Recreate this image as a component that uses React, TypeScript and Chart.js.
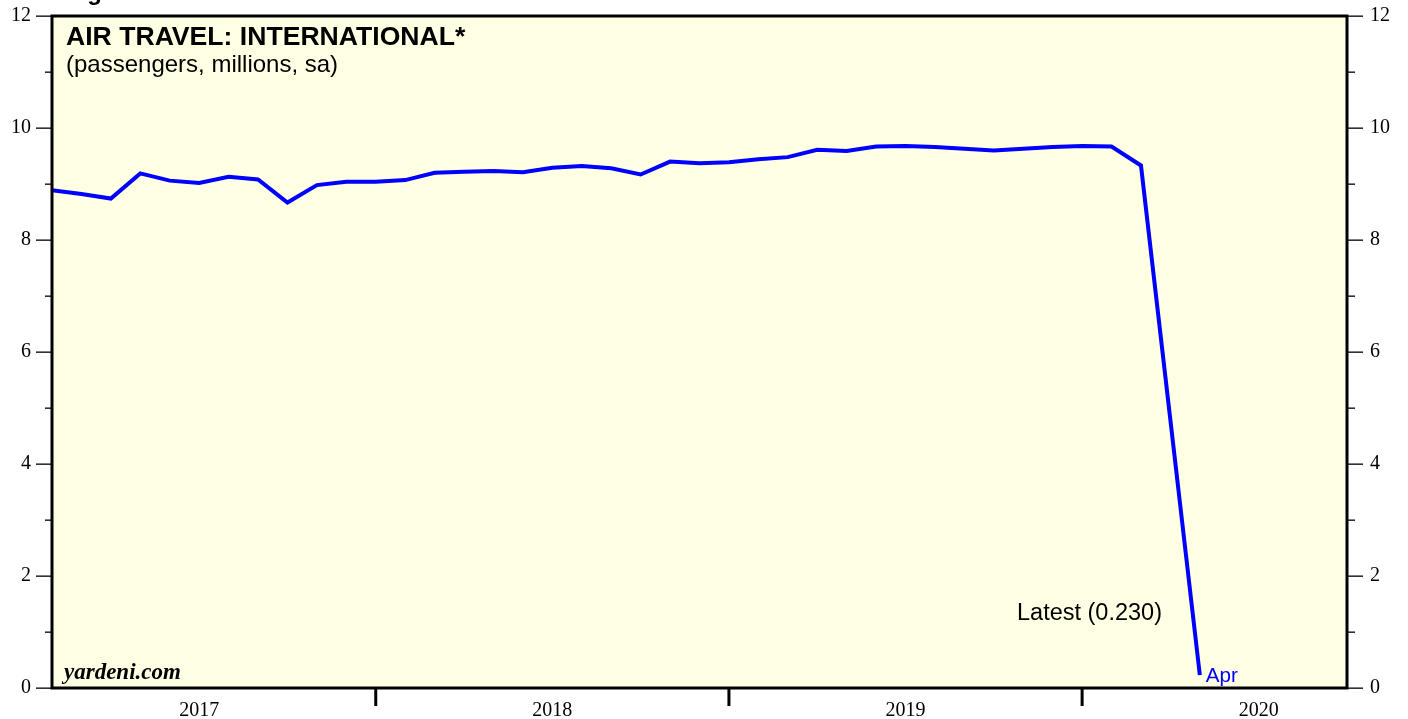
import React, { useEffect, useRef } from "react";
import { Chart, registerables } from "chart.js";

Chart.register(...registerables);

// Monthly data, Jan 2017 .. Apr 2020 (plotted at month end)
const monthLabels = [
  "Jan 2017", "Feb 2017", "Mar 2017", "Apr 2017", "May 2017", "Jun 2017",
  "Jul 2017", "Aug 2017", "Sep 2017", "Oct 2017", "Nov 2017", "Dec 2017",
  "Jan 2018", "Feb 2018", "Mar 2018", "Apr 2018", "May 2018", "Jun 2018",
  "Jul 2018", "Aug 2018", "Sep 2018", "Oct 2018", "Nov 2018", "Dec 2018",
  "Jan 2019", "Feb 2019", "Mar 2019", "Apr 2019", "May 2019", "Jun 2019",
  "Jul 2019", "Aug 2019", "Sep 2019", "Oct 2019", "Nov 2019", "Dec 2019",
  "Jan 2020", "Feb 2020", "Mar 2020", "Apr 2020",
];

const passengers = [
  8.89, 8.82, 8.74, 9.19, 9.06, 9.02, 9.13, 9.08, 8.67, 8.98, 9.04, 9.04,
  9.07, 9.2, 9.22, 9.23, 9.21, 9.29, 9.32, 9.28, 9.17, 9.4, 9.37, 9.39,
  9.44, 9.48, 9.61, 9.59, 9.67, 9.68, 9.66, 9.63, 9.6, 9.63, 9.66, 9.68,
  9.67, 9.33, 4.78, 0.23,
];

const yearLabels = ["2017", "2018", "2019", "2020"];
const yearLabelPositions = [6, 18, 30, 42]; // months from start of 2017 (mid-year)
const yearBoundaries = [12, 24, 36];
const xMin = 1;
const xMax = 45;
const yTickValues = [0, 1, 2, 3, 4, 5, 6, 7, 8, 9, 10, 11, 12];

const BG = "#FFFFE3";
const SANS = "'Liberation Sans', Arial, sans-serif";
const SERIF = "'Liberation Serif', 'Times New Roman', serif";

export default function App() {
  const canvasRef = useRef<HTMLCanvasElement | null>(null);

  useEffect(() => {
    document.body.style.margin = "0";
    const canvas = canvasRef.current;
    if (!canvas) return;

    const points = passengers.map((v, i) => ({ x: i + 1, y: v }));

    const decor = {
      id: "decor",
      beforeDraw(chart: any) {
        const { ctx, chartArea } = chart;
        ctx.save();
        ctx.fillStyle = "#ffffff";
        ctx.fillRect(0, 0, chart.width, chart.height);
        ctx.fillStyle = BG;
        ctx.fillRect(chartArea.left, chartArea.top, chartArea.right - chartArea.left, chartArea.bottom - chartArea.top);
        ctx.restore();
      },
      afterDraw(chart: any) {
        const { ctx, chartArea } = chart;
        const xs = chart.scales.x;
        const ys = chart.scales.y;
        ctx.save();
        // border
        ctx.strokeStyle = "#000";
        ctx.lineWidth = 3;
        ctx.strokeRect(chartArea.left, chartArea.top, chartArea.right - chartArea.left, chartArea.bottom - chartArea.top);
        // y ticks (left & right)
        ctx.fillStyle = "#000";
        yTickValues.forEach((v) => {
          const y = Math.round(ys.getPixelForValue(v));
          const major = v % 2 === 0;
          const ll = major ? 16 : 7;
          const rl = major ? 16 : 8;
          ctx.fillRect(chartArea.left - ll, y - 0.5, ll, 1.3);
          ctx.fillRect(chartArea.right, y - 0.5, rl, 1.3);
        });
        // year boundary ticks
        yearBoundaries.forEach((m) => {
          const x = xs.getPixelForValue(m);
          ctx.fillRect(x - 1.5, chartArea.bottom, 3, 18);
        });
        // texts
        ctx.textAlign = "left";
        ctx.textBaseline = "alphabetic";
        ctx.fillStyle = "#000";
        ctx.font = `bold 24px ${SANS}`;
        ctx.fillText("Figure 6.", 66, 0);
        ctx.font = `bold 26.6px ${SANS}`;
        ctx.fillText("AIR TRAVEL: INTERNATIONAL*", 66, 45);
        ctx.font = `24px ${SANS}`;
        ctx.fillText("(passengers, millions, sa)", 66, 72);
        ctx.font = `italic bold 23px ${SERIF}`;
        ctx.fillText("yardeni.com", 64, 679);
        ctx.font = `23.5px ${SANS}`;
        ctx.fillText("Latest (0.230)", 1017, 620);
        ctx.fillStyle = "#0000FF";
        ctx.font = `20.6px ${SANS}`;
        const lastX = xs.getPixelForValue(points.length);
        ctx.fillText("Apr", lastX + 6, 682);
        ctx.restore();
      },
    };

    const yTickCallback = (value: any) => (Number(value) % 2 === 0 ? String(value) : "");

    const chart = new Chart(canvas, {
      type: "line",
      data: {
        labels: monthLabels,
        datasets: [
          {
            label: "International passengers",
            data: points,
            borderColor: "#0000FF",
            borderWidth: 4,
            pointRadius: 0,
            tension: 0,
            fill: false,
          },
        ],
      },
      options: {
        responsive: false,
        animation: false,
        events: [],
        layout: { padding: { top: 16, left: 0, right: 0, bottom: 0 } },
        plugins: {
          legend: { display: false },
          tooltip: { enabled: false },
          title: { display: false },
        },
        scales: {
          x: {
            type: "linear",
            min: xMin,
            max: xMax,
            grid: { display: false, drawTicks: true, tickLength: 8 },
            border: { display: false },
            afterBuildTicks(scale: any) {
              scale.ticks = yearLabelPositions.map((v) => ({ value: v }));
            },
            afterFit(scale: any) {
              scale.height = 31;
              scale.paddingLeft = 0;
              scale.paddingRight = 0;
            },
            ticks: {
              autoSkip: false,
              maxRotation: 0,
              padding: 3,
              color: "#000",
              font: { family: SERIF, size: 20 },
              callback(value: any) {
                const i = yearLabelPositions.indexOf(Number(value));
                return i >= 0 ? yearLabels[i] : "";
              },
            },
          },
          y: {
            type: "linear",
            position: "left",
            min: 0,
            max: 12,
            grid: { display: false, drawTicks: true, tickLength: 21 },
            border: { display: false },
            afterBuildTicks(scale: any) {
              scale.ticks = yTickValues.map((v) => ({ value: v }));
            },
            afterFit(scale: any) {
              scale.width = 52;
              scale.paddingTop = 0;
              scale.paddingBottom = 0;
            },
            ticks: {
              padding: 0,
              color: "#000",
              font: { family: SERIF, size: 20 },
              callback: yTickCallback,
            },
          },
          y2: {
            type: "linear",
            position: "right",
            min: 0,
            max: 12,
            grid: { display: false, drawTicks: true, tickLength: 23 },
            border: { display: false },
            afterBuildTicks(scale: any) {
              scale.ticks = yTickValues.map((v) => ({ value: v }));
            },
            afterFit(scale: any) {
              scale.width = 61;
              scale.paddingTop = 0;
              scale.paddingBottom = 0;
            },
            ticks: {
              padding: 0,
              color: "#000",
              font: { family: SERIF, size: 20 },
              callback: yTickCallback,
            },
          },
        },
      },
      plugins: [decor],
    } as any);

    return () => {
      chart.destroy();
    };
  }, []);

  return (
    <div style={{ position: "absolute", left: 0, top: 0, width: 1408, height: 719 }}>
      <canvas ref={canvasRef} width={1408} height={719} />
    </div>
  );
}
